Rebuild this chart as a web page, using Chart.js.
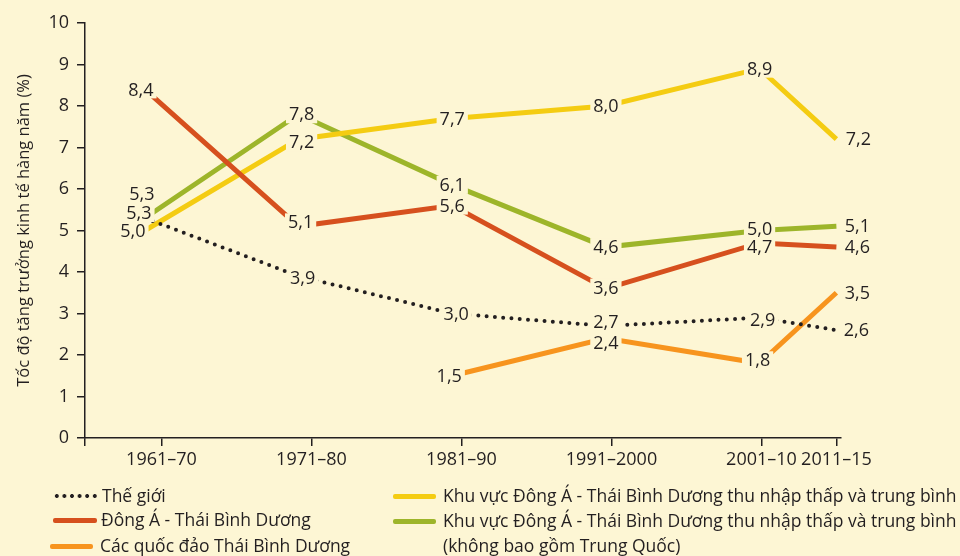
<!DOCTYPE html>
<html lang="vi">
<head>
<meta charset="utf-8">
<title>Tốc độ tăng trưởng kinh tế hàng năm</title>
<script src="https://cdn.jsdelivr.net/npm/chart.js@4.4.1/dist/chart.umd.min.js"></script>
<style>
    html, body { margin: 0; padding: 0; background: #fdf6d4; }
    #wrap { position: relative; width: 960px; height: 556px; overflow: hidden; }
    #chart { position: absolute; left: 0; top: 0; }
    .lg-swatch { position: absolute; }
    .lg-text { position: absolute; font: 17.5px "Open Sans", sans-serif; color: #231f20; line-height: 25px; white-space: nowrap; }
</style>
</head>
<body>
<div id="wrap">
    <canvas id="chart" width="960" height="556"></canvas>
    <div id="legend"></div>
</div>
<script>
// giai đoạn (trục x) và vị trí tương đối của chúng
const periods = ['1961–70', '1971–80', '1981–90', '1991–2000', '2001–10', '2011–15'];
const periodPos = [0.5, 1.5, 2.5, 3.5, 4.5, 5.0];
const yTicks = [0, 1, 2, 3, 4, 5, 6, 7, 8, 9, 10];

// tốc độ tăng trưởng (%)
const theGioi = [5.3, 3.9, 3.0, 2.7, 2.9, 2.6];
const dongA = [8.4, 5.1, 5.6, 3.6, 4.7, 4.6];
const quocDao = [null, null, 1.5, 2.4, 1.8, 3.5];
const thuNhapTB = [5.0, 7.2, 7.7, 8.0, 8.9, 7.2];
const khongTQ = [5.3, 7.8, 6.1, 4.6, 5.0, 5.1];

const labelNames = [
    'Thế giới',
    'Đông Á - Thái Bình Dương',
    'Các quốc đảo Thái Bình Dương',
    'Khu vực Đông Á - Thái Bình Dương thu nhập thấp và trung bình',
    ['Khu vực Đông Á - Thái Bình Dương thu nhập thấp và trung bình', '(không bao gồm Trung Quốc)']
];

const BG = '#fdf6d4';
const INK = '#231f20';
const FONT = '"Open Sans", sans-serif';

// lệch nhãn số so với điểm (px)
const labelOffsets = [
    [[-6, -5], [4, 2], [4, 0], [0, -4], [3, 2], [20, 0]],
    [[-4, 0], [2, -4], [0, 0], [0, -1], [0, 4], [21, 0]],
    [[0, 0], [0, 0], [-3, 0], [0, 4], [-2, -3], [21, 0]],
    [[-12, 0], [3, 3], [0, 0], [0, 0], [0, 0], [22, 0]],
    [[-3, -24], [3, 0], [0, 0], [0, 0], [0, -2], [21, 0]]
];

function toPoints(values) {
    return values.map((v, i) => ({ x: periodPos[i], y: v }));
}

const valueLabels = {
    id: 'valueLabels',
    afterDatasetsDraw(chart) {
        const ctx = chart.ctx;
        const items = [];
        ctx.save();
        ctx.font = '18px ' + FONT;
        ctx.textAlign = 'center';
        ctx.textBaseline = 'middle';
        chart.data.datasets.forEach((ds, i) => {
            const meta = chart.getDatasetMeta(i);
            meta.data.forEach((pt, j) => {
                const v = ds.data[j].y;
                if (v === null) return;
                const off = labelOffsets[i][j];
                const txt = v.toFixed(1).replace('.', ',');
                items.push({ x: pt.x + off[0], y: pt.y + off[1], txt, w: ctx.measureText(txt).width });
            });
        });
        ctx.fillStyle = BG;
        items.forEach(it => ctx.fillRect(it.x - it.w / 2 - 3, it.y - 9, it.w + 6, 18));
        ctx.fillStyle = INK;
        items.forEach(it => ctx.fillText(it.txt, it.x, it.y + 1));
        ctx.restore();
    }
};

const chart = new Chart(document.getElementById('chart'), {
    type: 'line',
    data: {
        datasets: [
            { label: labelNames[0], data: toPoints(theGioi), borderColor: INK, borderWidth: 4, borderDash: [0, 8.3], borderCapStyle: 'round' },
            { label: labelNames[1], data: toPoints(dongA), borderColor: '#d6501e', borderWidth: 5 },
            { label: labelNames[2], data: toPoints(quocDao), borderColor: '#f7941e', borderWidth: 5 },
            { label: labelNames[3], data: toPoints(thuNhapTB), borderColor: '#f4cc12', borderWidth: 5 },
            { label: labelNames[4], data: toPoints(khongTQ), borderColor: '#9db52a', borderWidth: 5 }
        ]
    },
    options: {
        responsive: false,
        animation: false,
        layout: { padding: { top: 23, right: 119, left: 0, bottom: 0 } },
        elements: { point: { radius: 0 }, line: { tension: 0, fill: false } },
        datasets: { line: { clip: false, spanGaps: false } },
        plugins: { legend: { display: false }, tooltip: { enabled: false } },
        scales: {
            x: { type: 'linear', display: false, min: 0.11, max: 5.03 },
            xt: {
                type: 'linear',
                position: 'bottom',
                min: -0.01,
                max: 5.03,
                afterBuildTicks: scale => {
                    scale.ticks = [{ value: scale.min }].concat(periodPos.map(v => ({ value: v })));
                },
                afterFit: scale => { scale.height = 118; },
                ticks: {
                    autoSkip: false,
                    maxRotation: 0,
                    padding: 3,
                    color: INK,
                    font: { family: FONT, size: 18 },
                    callback: v => {
                        const i = periodPos.indexOf(v);
                        return i < 0 ? '' : periods[i];
                    }
                },
                grid: { drawOnChartArea: false, drawTicks: true, tickLength: 8, color: INK, lineWidth: 1.5 },
                border: { display: true, color: INK, width: 1.5 }
            },
            y: {
                min: 0,
                max: 10,
                afterBuildTicks: scale => { scale.ticks = yTicks.map(v => ({ value: v })); },
                afterFit: scale => { scale.width = 85; },
                ticks: { padding: 8, color: INK, font: { family: FONT, size: 18 } },
                grid: { drawOnChartArea: false, drawTicks: true, tickLength: 8, color: INK, lineWidth: 1.5 },
                border: { display: true, color: INK, width: 1.5 },
                title: {
                    display: true,
                    text: 'Tốc độ tăng trưởng kinh tế hàng năm (%)',
                    color: INK,
                    font: { family: FONT, size: 16.5 },
                    padding: { top: 14, bottom: 0 }
                }
            }
        }
    },
    plugins: [valueLabels]
});

// chú giải: vị trí từng mục (mẫu nét và chữ)
const legendSpots = [
    { sx: 53, sw: 44, y: 496, tx: 102 },
    { sx: 53, sw: 44, y: 520, tx: 101 },
    { sx: 50, sw: 43, y: 546, tx: 100 },
    { sx: 393, sw: 43, y: 496, tx: 443 },
    { sx: 393, sw: 43, y: 521, tx: 443 }
];

const legendEl = document.getElementById('legend');
chart.data.datasets.forEach((ds, i) => {
    const spot = legendSpots[i];
    const sw = document.createElement('div');
    sw.className = 'lg-swatch';
    const dotted = ds.borderDash && ds.borderDash.length;
    const h = dotted ? 4 : 5;
    sw.style.left = spot.sx + 'px';
    sw.style.top = (spot.y - h / 2) + 'px';
    sw.style.width = spot.sw + 'px';
    sw.style.height = h + 'px';
    if (dotted) {
        sw.style.background = 'radial-gradient(circle, ' + INK + ' 1.7px, transparent 2.2px) repeat-x';
        sw.style.backgroundSize = '7.6px 4px';
    } else {
        sw.style.background = ds.borderColor;
        sw.style.borderRadius = '2px';
    }
    legendEl.appendChild(sw);

    const lines = Array.isArray(ds.label) ? ds.label : [ds.label];
    const tx = document.createElement('div');
    tx.className = 'lg-text';
    tx.style.left = spot.tx + 'px';
    tx.style.top = (spot.y - 13) + 'px';
    tx.innerHTML = lines.map(s => s.replace(/&/g, '&amp;').replace(/</g, '&lt;')).join('<br>');
    legendEl.appendChild(tx);
});
</script>
</body>
</html>
